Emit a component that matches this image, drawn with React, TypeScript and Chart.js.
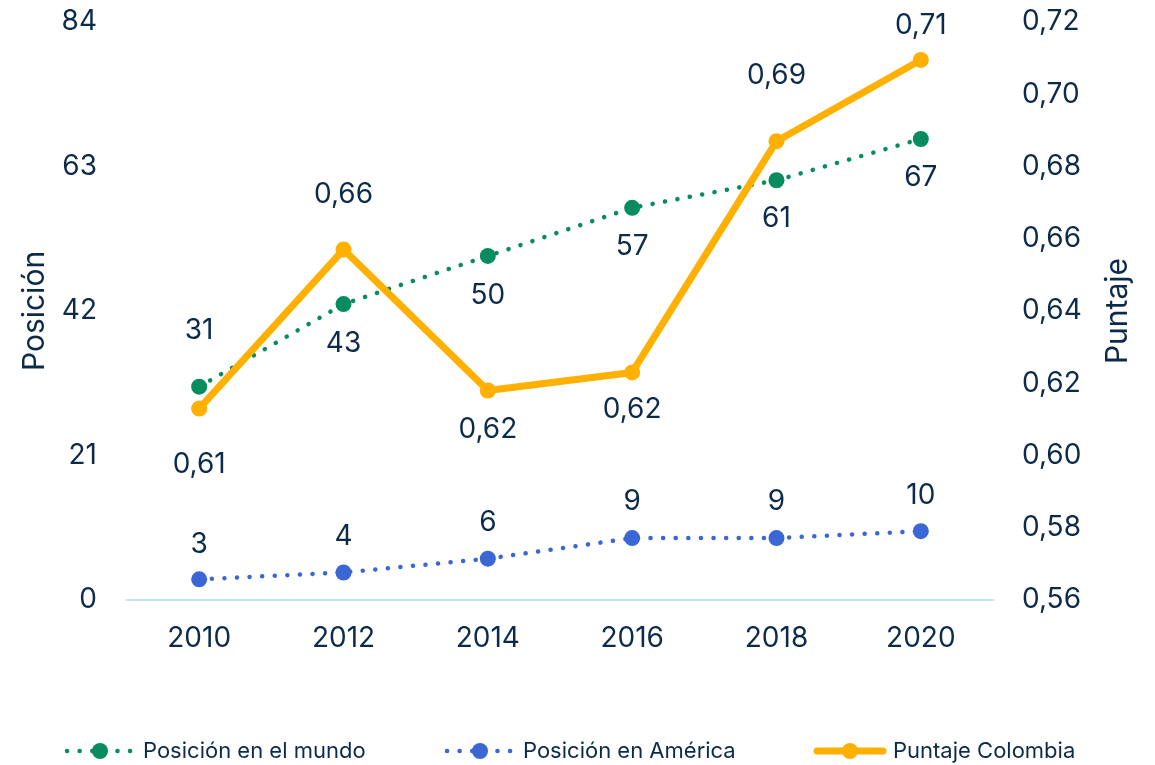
import React, { useEffect, useRef } from "react";
import { Chart, registerables } from "chart.js";

Chart.register(...registerables);

const years = ["2010", "2012", "2014", "2016", "2018", "2020"];
const posMundo = [31, 43, 50, 57, 61, 67];
const posAmerica = [3, 4, 6, 9, 9, 10];
const puntaje = [0.613, 0.657, 0.618, 0.623, 0.687, 0.7095];
const leftTicks = [0, 21, 42, 63, 84];
const rightTicks = [0.56, 0.58, 0.6, 0.62, 0.64, 0.66, 0.68, 0.7, 0.72];

const seriesNames = ["Posición en el mundo", "Posición en América", "Puntaje Colombia"];

// label placement (above / below the point) and distance per point
const labelSide = [
  ["up", "down", "down", "down", "down", "down"],
  ["up", "up", "up", "up", "up", "up"],
  ["down", "up", "down", "down", "up", "up"],
];
const labelGap = [
  [56, 39, 40, 39, 38, 39],
  [35, 36, 36, 36, 36, 36],
  [56, 55, 39, 37, 66, 34],
];

const TEXT = "#0c2b4b";
const GREEN = "#068c5f";
const BLUE = "#3a67d3";
const ORANGE = "#ffb000";
const FONT = "Inter, 'Noto Sans', sans-serif";

const fmtDec = (v: number) => v.toFixed(2).replace(".", ",");

const customPlugin = {
  id: "custom",
  afterDatasetsDraw(chart: any) {
    const ctx = chart.ctx;
    ctx.save();
    ctx.font = `28px ${FONT}`;
    ctx.fillStyle = TEXT;
    ctx.textAlign = "center";
    ctx.textBaseline = "middle";
    chart.data.datasets.forEach((ds: any, di: number) => {
      const meta = chart.getDatasetMeta(di);
      meta.data.forEach((pt: any, i: number) => {
        const v = ds.data[i];
        const txt = di === 2 ? fmtDec(v) : String(v);
        const dy = labelSide[di][i] === "up" ? -labelGap[di][i] : labelGap[di][i];
        ctx.fillText(txt, pt.x, pt.y + dy);
      });
    });
    ctx.restore();
  },
  afterDraw(chart: any) {
    const ctx = chart.ctx;
    const area = chart.chartArea;
    const midY = (area.top + area.bottom) / 2;
    ctx.save();
    ctx.font = `30px ${FONT}`;
    ctx.fillStyle = TEXT;
    ctx.textAlign = "center";
    ctx.textBaseline = "middle";
    ctx.save();
    ctx.translate(35, midY);
    ctx.rotate(-Math.PI / 2);
    ctx.fillText("Posición", 0, 0);
    ctx.restore();
    ctx.save();
    ctx.translate(1118, midY);
    ctx.rotate(-Math.PI / 2);
    ctx.fillText("Puntaje", 0, 0);
    ctx.restore();

    // legend
    const starts = [65, 445, 815];
    const ly = 751;
    [0, 1, 2].forEach((di, k) => {
      const ds = chart.data.datasets[di];
      const x0 = starts[k];
      const x1 = x0 + 70;
      ctx.save();
      ctx.strokeStyle = ds.borderColor;
      ctx.lineWidth = ds.borderWidth;
      ctx.lineCap = ds.borderCapStyle || "butt";
      ctx.setLineDash(ds.borderDash || []);
      ctx.beginPath();
      ctx.moveTo(x0 + 2, ly);
      ctx.lineTo(x1 - 2, ly);
      ctx.stroke();
      ctx.setLineDash([]);
      ctx.fillStyle = ds.pointBackgroundColor;
      ctx.beginPath();
      ctx.arc((x0 + x1) / 2, ly, ds.pointRadius, 0, Math.PI * 2);
      ctx.fill();
      ctx.restore();
      ctx.font = `22px ${FONT}`;
      ctx.fillStyle = TEXT;
      ctx.textAlign = "left";
      ctx.fillText(seriesNames[di], x1 + 8, ly);
    });
    ctx.restore();
  },
};

const fixY = (w: number) => (s: any) => {
  s.width = w;
  s.paddingTop = 0;
  s.paddingBottom = 0;
};

export default function App() {
  const ref = useRef<HTMLCanvasElement | null>(null);
  useEffect(() => {
    if (!ref.current) return;
    const chart = new Chart(ref.current, {
      type: "line",
      data: {
        labels: years,
        datasets: [
          {
            label: seriesNames[0],
            data: posMundo,
            yAxisID: "y",
            borderColor: GREEN,
            borderWidth: 4.5,
            borderCapStyle: "round",
            borderDash: [0.1, 12.5],
            pointRadius: 8,
            pointHoverRadius: 8,
            pointBackgroundColor: GREEN,
            pointBorderWidth: 0,
            order: 1,
          },
          {
            label: seriesNames[1],
            data: posAmerica,
            yAxisID: "y",
            borderColor: BLUE,
            borderWidth: 4.5,
            borderCapStyle: "round",
            borderDash: [0.1, 12.5],
            pointRadius: 8,
            pointHoverRadius: 8,
            pointBackgroundColor: BLUE,
            pointBorderWidth: 0,
            order: 2,
          },
          {
            label: seriesNames[2],
            data: puntaje,
            yAxisID: "y1",
            borderColor: ORANGE,
            borderWidth: 7,
            borderCapStyle: "round",
            borderJoinStyle: "round",
            pointRadius: 8,
            pointHoverRadius: 8,
            pointBackgroundColor: ORANGE,
            pointBorderWidth: 0,
            order: 0,
          },
        ] as any,
      },
      options: {
        animation: false,
        responsive: true,
        maintainAspectRatio: false,
        layout: { padding: { top: 22, left: 0, right: 0, bottom: 0 } },
        plugins: { legend: { display: false }, tooltip: { enabled: false } },
        scales: {
          x: {
            offset: true,
            grid: { display: false, drawTicks: false },
            border: { display: true, color: "#c6e4f5", width: 2 },
            ticks: { color: TEXT, font: { size: 28, family: FONT }, padding: 22 },
            afterFit: (s: any) => {
              s.height = 165;
            },
          },
          y: {
            position: "left",
            min: 0,
            max: 84,
            afterBuildTicks: (s: any) => {
              s.ticks = leftTicks.map((v) => ({ value: v }));
            },
            grid: { display: false, drawTicks: false },
            border: { display: false },
            ticks: { color: TEXT, font: { size: 28, family: FONT }, padding: 30 },
            afterFit: fixY(127),
          },
          y1: {
            position: "right",
            min: 0.56,
            max: 0.72,
            afterBuildTicks: (s: any) => {
              s.ticks = rightTicks.map((v) => ({ value: v }));
            },
            grid: { display: false, drawTicks: false },
            border: { display: false },
            ticks: {
              color: TEXT,
              font: { size: 28, family: FONT },
              padding: 29,
              callback: (v: any) => fmtDec(Number(v)),
            },
            afterFit: fixY(162),
          },
        } as any,
      },
      plugins: [customPlugin],
    });
    return () => chart.destroy();
  }, []);
  return (
    <div style={{ position: "fixed", left: 0, top: 0, width: 1155, height: 765 }}>
      <canvas ref={ref} />
    </div>
  );
}
